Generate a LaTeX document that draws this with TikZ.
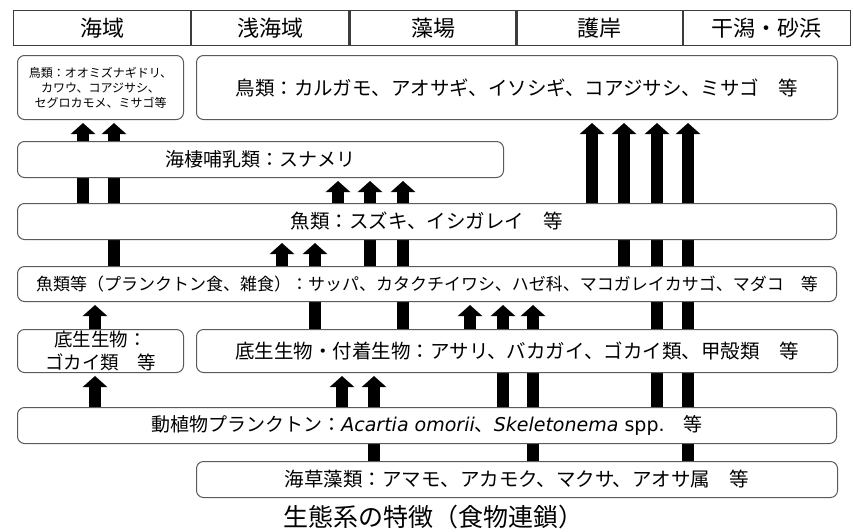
\documentclass[tikz,border=0pt]{standalone}
\usepackage{fontspec}
\setmainfont{Noto Sans CJK JP}
\newfontfamily\latfont{DejaVu Sans}[ItalicFont={DejaVu Sans Oblique}]
\usepackage{tikz}
\usetikzlibrary{arrows.meta,positioning,backgrounds}
\definecolor{boxgray}{HTML}{5A5A5A}
\definecolor{headgray}{HTML}{3C3C3C}
\tikzset{
        head/.style = {draw=headgray, line width=1.2pt, rectangle,
            minimum height=35pt, inner sep=0pt,
            font=\fontsize{22}{26}\selectfont},
        block/.style = {draw=boxgray, line width=1pt, rectangle,
            rounded corners=7pt, fill=white, inner sep=0pt,
            font=\fontsize{19.5}{23}\selectfont},
        feed/.style = {line width=12pt, -{Triangle[width=24pt,length=11pt]},
            shorten >=3pt},
    }

\begin{document}
\begin{tikzpicture}[x=1pt,y=-1pt]
        \useasboundingbox (0,0) rectangle (853,531);

        % habitats
        \node[head, minimum width=177pt, anchor=north west] (h1) at (13,10) {海域};
        \node[head, minimum width=157pt, right=0pt of h1] (h2) {浅海域};
        \node[head, minimum width=166pt, right=0pt of h2] (h3) {藻場};
        \node[head, minimum width=165pt, right=0pt of h3] (h4) {護岸};
        \node[head, minimum width=167pt, right=0pt of h4] (h5) {干潟・砂浜};

        % food chain levels
        \node[block, minimum width=166pt, minimum height=64pt, anchor=north west,
            align=center, font=\fontsize{12}{15}\selectfont] (birda) at (17,55)
            {鳥類：オオミズナギドリ、\\カワウ、コアジサシ、\\セグロカモメ、ミサゴ等};
        \node[block, minimum width=641pt, minimum height=64pt, right=12pt of birda] (birdb)
            {鳥類：カルガモ、アオサギ、イソシギ、コアジサシ、ミサゴ　等};
        \node[block, minimum width=486pt, minimum height=36pt, font=\fontsize{19}{23}\selectfont,
            below=21pt of birda.south west, anchor=north west] (mammal)
            {海棲哺乳類：スナメリ};
        \node[block, minimum width=819pt, minimum height=36pt,
            below=25pt of mammal.south west, anchor=north west] (fish)
            {魚類：スズキ、イシガレイ　等};
        \node[block, minimum width=819pt, minimum height=35pt, font=\fontsize{17}{20}\selectfont,
            below=26pt of fish.south west, anchor=north west] (fishs)
            {魚類等（プランクトン食、雑食）：サッパ、カタクチイワシ、ハゼ科、マコガレイカサゴ、マダコ　等};
        \node[block, minimum width=166pt, minimum height=43pt, align=center,
            font=\fontsize{18.5}{23}\selectfont,
            below=27pt of fishs.south west, anchor=north west] (bentha)
            {底生生物：\\ゴカイ類　等};
        \node[block, minimum width=641pt, minimum height=43pt, right=12pt of bentha] (benthb)
            {底生生物・付着生物：アサリ、バカガイ、ゴカイ類、甲殻類　等};
        \node[block, minimum width=819pt, minimum height=36pt, font=\fontsize{19}{23}\selectfont,
            below=34pt of bentha.south west, anchor=north west] (plankton)
            {動植物プランクトン：{\latfont\textit{Acartia omorii}}、{\latfont\textit{Skeletonema} spp.}　等};
        \node[block, minimum width=641pt, minimum height=36pt,
            below=88pt of benthb.south west, anchor=north west] (weed)
            {海草藻類：アマモ、アカモク、マクサ、アオサ属　等};

        \node[font=\fontsize{25}{30}\selectfont] (title) at (433,517) {生態系の特徴（食物連鎖）};

        % who eats whom
        \begin{scope}[on background layer]
            \foreach \x/\src/\dst in {83/fish/birda, 114/fishs/birda,
                    95/bentha/fishs, 95/plankton/bentha,
                    282/fishs/fish, 315/benthb/fish,
                    338/fish/mammal, 370/fishs/mammal, 403/benthb/mammal,
                    342/plankton/benthb, 374/weed/benthb,
                    470/benthb/fishs, 503/plankton/fishs, 533/weed/fishs,
                    592/fish/birdb, 624/fishs/birdb, 657/plankton/birdb, 688/weed/birdb}
                \draw[feed] (\x,0 |- \src.north) -- (\x,0 |- \dst.south);
        \end{scope}
\end{tikzpicture}
\end{document}
